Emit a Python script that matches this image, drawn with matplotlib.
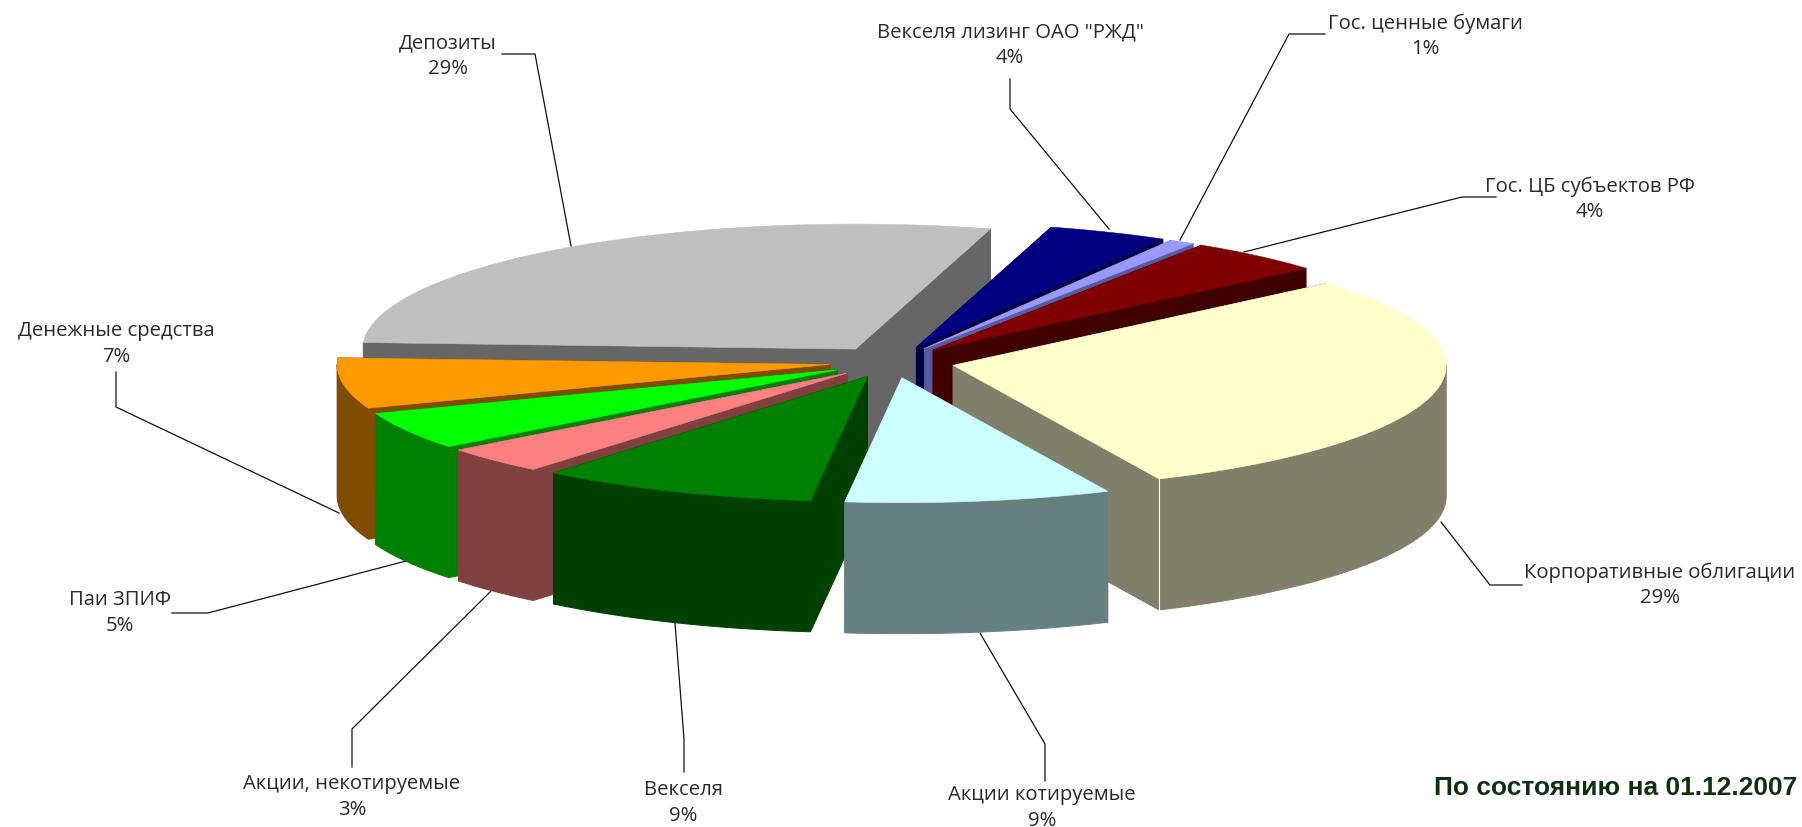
import numpy as np
import matplotlib
matplotlib.use("Agg")
import matplotlib.pyplot as plt

# ---- data (clockwise from the left edge of the first slice) ----
names = ['Депозиты', 'Векселя лизинг ОАО "РЖД"', 'Гос. ценные бумаги', 'Гос. ЦБ субъектов РФ',
         'Корпоративные облигации', 'Акции котируемые', 'Векселя', 'Акции, некотируемые',
         'Паи ЗПИФ', 'Денежные средства']
values = [28.58, 3.92, 0.83, 4.49, 29.49, 8.70, 9.14, 3.47, 4.86, 6.52]
top_colors = ['#BFBFBF', '#000080', '#9999FF', '#800000', '#FFFFCC',
              '#CCFFFF', '#008000', '#FF8080', '#00FF00', '#FF9900']
side_colors = ['#666666', '#000040', '#5A5AA0', '#400000', '#80806A',
               '#667F80', '#004000', '#804040', '#008000', '#804D00']
note = 'По состоянию на 01.12.2007'

# ---- style / layout ----
CX, CY = 892, 363
A, B = 493, 125
HEIGHT = 131
EXPLODE = 0.127
START = -87.0
draw_order = [0, 1, 2, 3, 4, 9, 8, 7, 6, 5]

label_centres = {0: (448, 56), 1: (1010, 45), 2: (1425, 36), 3: (1590, 199), 4: (1660, 585),
                 5: (1042, 808), 6: (683, 803), 7: (352, 797), 8: (120, 613), 9: (116, 344)}
leaders = {0: [(502, 55), (535, 55), (571, 247)],
           1: [(1010, 80), (1010, 110), (1109, 230)],
           2: [(1325, 35), (1289, 35), (1180, 241)],
           3: [(1496, 198), (1462, 198), (1244, 253)],
           4: [(1522, 586), (1490, 586), (1441, 523)],
           5: [(1045, 782), (1045, 745), (980, 634)],
           6: [(684, 773), (684, 740), (675, 624)],
           7: [(352, 768), (352, 730), (491, 592)],
           8: [(172, 614), (208, 614), (406, 562)],
           9: [(116, 373), (116, 408), (339, 514)]}

fig = plt.figure(figsize=(18.02, 8.28), dpi=100, facecolor='white')
ax = fig.add_axes([0, 0, 1, 1])
ax.set_xlim(0, 1802)
ax.set_ylim(828, 0)
ax.axis('off')

edges = START + np.concatenate([[0], np.cumsum(values)]) * 360.0 / sum(values)


def pt(theta_deg, r=1.0):
    t = np.radians(theta_deg)
    return A * r * np.sin(t), -B * r * np.cos(t)


def extrude(wx, wy, colour, z):
    ax.fill(np.r_[wx, wx[::-1]], np.r_[wy, wy[::-1] + HEIGHT],
            facecolor=colour, edgecolor=colour, lw=0.7, zorder=z)


for i in draw_order:
    z = 1 + draw_order.index(i)
    t0, t1 = edges[i], edges[i + 1]
    mid = (t0 + t1) / 2
    dx, dy = pt(mid, EXPLODE)
    ax0, ay0 = CX + dx, CY + dy

    # outer wall: only the part of the rim that faces the viewer (90 to 270 degrees)
    a, b = max(t0, 90.0), min(t1, 270.0)
    if a < b:
        th = np.linspace(a, b, 100)
        ex, ey = pt(th)
        extrude(ax0 + ex, ay0 + ey, side_colors[i], z)

    # radial walls
    for t in (t0, t1):
        ex, ey = pt(t)
        extrude(np.r_[ax0, ax0 + ex], np.r_[ay0, ay0 + ey], side_colors[i], z)

    # top face
    th = np.linspace(t0, t1, 160)
    ex, ey = pt(th)
    ex, ey = ax0 + ex, ay0 + ey
    ax.fill(np.r_[ax0, ex], np.r_[ay0, ey], facecolor=top_colors[i],
            edgecolor=top_colors[i], lw=0.4, zorder=z)
    if i == 4:
        ax.plot([ex[-1], ex[-1]], [ey[-1], ey[-1] + HEIGHT], color='white', lw=0.8, zorder=z)

for i, name in enumerate(names):
    x, y = label_centres[i]
    ax.text(x, y, f"{name}\n{round(values[i])}%", ha='center', va='center',
            family='Open Sans', fontsize=14.6, color='#2A2A2A', linespacing=1.36, zorder=30)
    lx, ly = zip(*leaders[i])
    ax.plot(lx, ly, color='#111111', lw=0.9, zorder=0.5)

ax.text(1797, 788, note, ha='right', va='center', family='Liberation Sans',
        fontweight='bold', fontsize=19, color='#0F3010', zorder=30)

fig.savefig('out.png', dpi=100, facecolor='white')
